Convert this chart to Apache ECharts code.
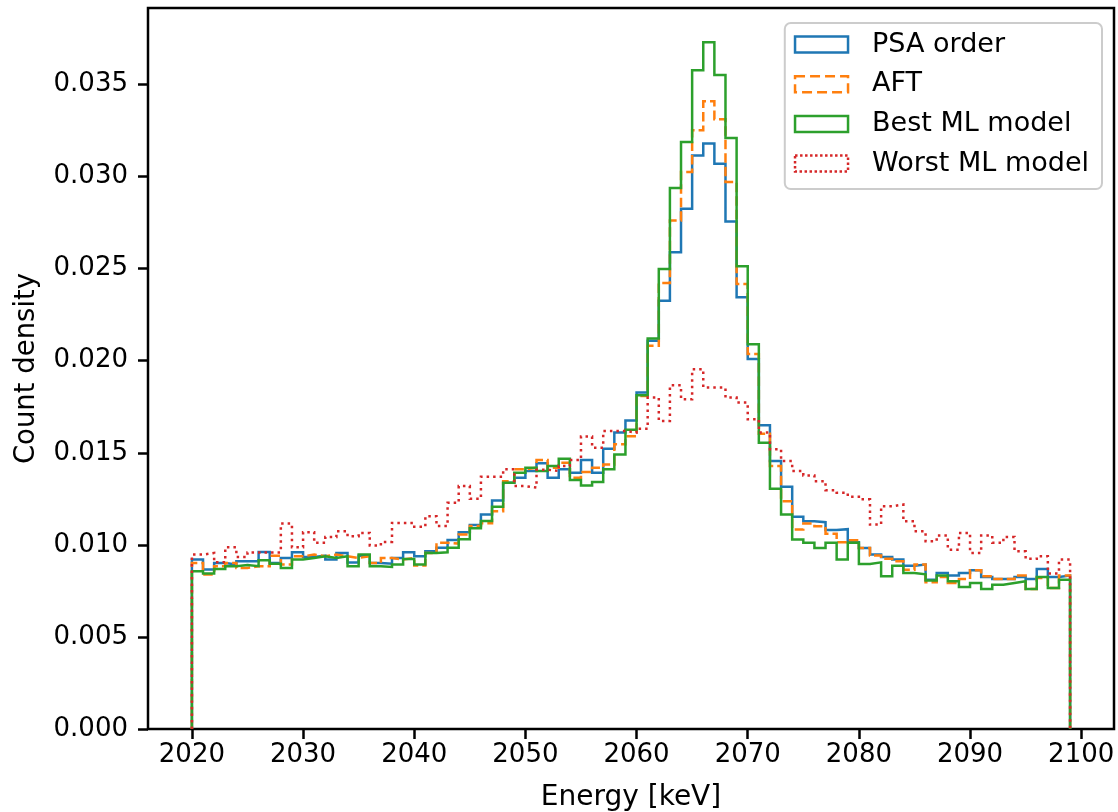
<!DOCTYPE html>
<html><head><meta charset="utf-8">
<script src="https://cdn.jsdelivr.net/npm/echarts@6/dist/echarts.min.js"></script>
<style>html,body{margin:0;padding:0;background:#fff}#c{width:1118px;height:812px}</style>
</head><body><div id="c"></div>
<script>
// Histogram bins: 1 keV wide, starting at 2020 keV (79 bins)
const binStart = 2020;
const binWidth = 1;
const xTicks = [2020, 2030, 2040, 2050, 2060, 2070, 2080, 2090, 2100];
const yTicks = [0, 0.005, 0.010, 0.015, 0.020, 0.025, 0.030, 0.035];
const seriesNames = ['PSA order', 'AFT', 'Best ML model', 'Worst ML model'];

const psaOrder = [
 0.0092,0.00866,0.00902,0.00893,0.00911,0.00911,0.00961,0.00902,0.00929,0.0096,
 0.00934,0.00941,0.0092,0.00956,0.00904,0.00941,0.00902,0.00898,0.00929,0.0096,
 0.00938,0.00965,0.00984,0.01026,0.01069,0.01108,0.01165,0.01241,0.01337,0.01365,
 0.01401,0.01443,0.01365,0.0141,0.01392,0.01461,0.01392,0.01522,0.0161,0.01676,
 0.01827,0.02108,0.02326,0.02589,0.02825,0.03115,0.03179,0.0307,0.02756,0.02344,
 0.02009,0.01649,0.01455,0.01316,0.01152,0.01128,0.01123,0.01081,0.01085,0.01014,
 0.00983,0.00947,0.00934,0.0092,0.00887,0.00893,0.00811,0.00847,0.00833,0.00847,
 0.00862,0.00826,0.00815,0.00815,0.00826,0.00815,0.00869,0.00826,0.00833];
const aft = [
 0.00902,0.00839,0.00884,0.00902,0.00875,0.00884,0.00884,0.00941,0.00893,0.00938,
 0.00947,0.00938,0.00947,0.00938,0.00929,0.00938,0.00902,0.00929,0.0092,0.00929,
 0.00888,0.00956,0.01011,0.01007,0.01056,0.01102,0.01117,0.01183,0.01346,0.0141,
 0.01419,0.01461,0.01419,0.01446,0.01365,0.01395,0.01419,0.01437,0.01546,0.0159,
 0.01808,0.02081,0.02422,0.02762,0.03025,0.03251,0.03409,0.03311,0.0297,0.02417,
 0.02036,0.01604,0.01428,0.01237,0.01083,0.01116,0.01101,0.01061,0.01014,0.01025,
 0.00983,0.00942,0.00924,0.00911,0.00865,0.00893,0.00797,0.00826,0.00793,0.00815,
 0.00862,0.00829,0.00815,0.00815,0.00833,0.0076,0.0082,0.00766,0.00833];
const bestML = [
 0.00857,0.00844,0.00869,0.00884,0.0089,0.00884,0.00916,0.00898,0.00875,0.0092,
 0.00929,0.00938,0.00929,0.00938,0.00884,0.00947,0.00884,0.0088,0.00893,0.00923,
 0.00893,0.00956,0.0096,0.00984,0.0103,0.0109,0.01129,0.01207,0.01337,0.01392,
 0.01419,0.01401,0.01428,0.01468,0.01352,0.01323,0.01341,0.0141,0.01491,0.01625,
 0.01813,0.02121,0.02498,0.02938,0.03188,0.03578,0.03729,0.03551,0.0321,0.02513,
 0.0209,0.01555,0.01305,0.01165,0.01029,0.01011,0.00983,0.01011,0.0092,0.01011,
 0.00896,0.00905,0.00829,0.00887,0.00847,0.0084,0.00806,0.00833,0.00802,0.00771,
 0.00793,0.0076,0.00784,0.00793,0.00802,0.0076,0.00826,0.00766,0.00811];
const worstML = [
 0.00947,0.00956,0.00905,0.00987,0.00934,0.00959,0.00959,0.00959,0.01116,0.00987,
 0.01069,0.01011,0.01043,0.01074,0.01047,0.01065,0.00996,0.01016,0.01119,0.01119,
 0.01098,0.01156,0.01102,0.01228,0.01319,0.0125,0.0137,0.0137,0.0141,0.01319,
 0.01311,0.01408,0.01401,0.01428,0.01461,0.01588,0.01528,0.01618,0.01618,0.0161,
 0.0163,0.018,0.01673,0.01867,0.01791,0.01954,0.01854,0.01854,0.018,0.01773,
 0.01682,0.0161,0.01519,0.01455,0.01401,0.01377,0.01346,0.01297,0.01283,0.01261,
 0.01247,0.0111,0.0121,0.01219,0.01128,0.01074,0.0102,0.01051,0.00974,0.01065,
 0.00956,0.01051,0.01011,0.01043,0.00965,0.00924,0.00938,0.00845,0.0092];

const colors = ['#1f77b4', '#ff7f0e', '#2ca02c', '#d62728'];
const dashes = ['solid', [9.5, 4], 'solid', [2.5, 4]];
const legendBorder = ['solid', 'dashed', 'solid', 'dotted'];
const allData = [psaOrder, aft, bestML, worstML];

function stepOutline(vals) {
  const pts = [[binStart, 0]];
  vals.forEach((v, i) => {
    const a = binStart + i * binWidth, b = a + binWidth;
    pts.push([a, v], [b, v]);
  });
  pts.push([binStart + vals.length * binWidth, 0]);
  return pts;
}

const nBins = psaOrder.length;
const xMin = binStart, xMax = binStart + nBins * binWidth;
const xPad = (xMax - xMin) * 0.05;
const yMaxData = Math.max(...allData.map(a => Math.max(...a)));

const font = 'DejaVu Sans';
const chart = echarts.init(document.getElementById('c'), null, {renderer: 'canvas'});
chart.setOption({
  animation: false,
  backgroundColor: '#ffffff',
  grid: {left: 148, right: 4, top: 8, bottom: 83, show: true, borderColor: '#000', borderWidth: 2.5, outerBoundsMode: 'none'},
  xAxis: {
    type: 'value', min: xMin - xPad, max: xMax + xPad,
    name: 'Energy [keV]', nameLocation: 'middle', nameGap: 55,
    nameTextStyle: {fontFamily: font, fontSize: 28, color: '#000'},
    axisLine: {show: false},
    axisTick: {show: true, length: 10, customValues: xTicks, lineStyle: {color: '#000', width: 2.5}},
    axisLabel: {customValues: xTicks, fontFamily: font, fontSize: 26, color: '#000', margin: 13,
      formatter: v => String(Math.round(v))},
    splitLine: {show: false}
  },
  yAxis: {
    type: 'value', min: 0, max: yMaxData * 1.05,
    name: 'Count density', nameLocation: 'middle', nameGap: 107,
    nameTextStyle: {fontFamily: font, fontSize: 27.5, color: '#000'},
    axisLine: {show: false},
    axisTick: {show: true, length: 10, customValues: yTicks, lineStyle: {color: '#000', width: 2.5}},
    axisLabel: {customValues: yTicks, fontFamily: font, fontSize: 26, color: '#000', margin: 20,
      formatter: v => v.toFixed(3)},
    splitLine: {show: false}
  },
  legend: {
    orient: 'vertical', right: 16, top: 23,
    backgroundColor: 'rgba(255,255,255,0.8)', borderColor: '#cccccc', borderWidth: 2, borderRadius: 6,
    padding: [8, 13, 12, 9],
    itemWidth: 53, itemHeight: 16, itemGap: 12.7,
    textStyle: {fontFamily: font, fontSize: 27, lineHeight: 27, color: '#000', padding: [0, 0, 0, 19]},
    data: seriesNames.map((n, i) => ({
      name: n, icon: 'rect',
      itemStyle: {color: 'rgba(0,0,0,0)', borderColor: colors[i], borderWidth: 2.5, borderType: legendBorder[i]}
    }))
  },
  series: allData.map((vals, i) => ({
    name: seriesNames[i], type: 'line', data: stepOutline(vals),
    symbol: 'none', color: colors[i],
    lineStyle: {color: colors[i], width: 2.5, type: dashes[i], join: 'miter'},
    emphasis: {disabled: true}
  }))
});
</script>
</body></html>
